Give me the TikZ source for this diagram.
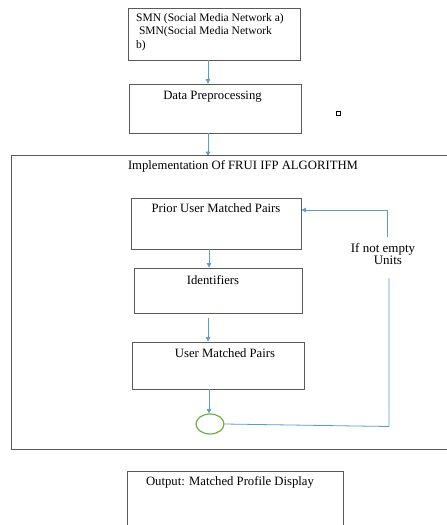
\documentclass[tikz,border=0pt]{standalone}
\usepackage{fontspec}
\setmainfont{Liberation Serif}
\usetikzlibrary{arrows.meta,shapes.geometric}
\definecolor{arrblue}{HTML}{5B9BD5}
\definecolor{boxgray}{HTML}{5A5A5A}
\definecolor{ellgreen}{HTML}{70AD47}
\begin{document}
\begin{tikzpicture}[x=1pt,y=-1pt,
  box/.style={draw=boxgray,line width=0.9pt,rectangle,inner sep=0pt},
  txt/.style={inner sep=0pt,font=\fontsize{12.7}{13.3}\selectfont},
  conn/.style={draw=arrblue,line width=0.8pt},
  arr/.style={conn,-{Triangle[width=4.5pt,length=4.5pt]}}]
\useasboundingbox (0,0) rectangle (447,525);
\fill[white] (0,0) rectangle (447,525);
% outer frame (right edge beyond the picture)
\draw[boxgray,line width=1pt] (460,155) -- (11.5,155) -- (11.5,449) -- (460,449);
% boxes
\node[box,minimum width=172pt,minimum height=52pt] (smn) at (214,34) {};
\node[box,minimum width=172pt,minimum height=49pt] (prep) at (215,108.5) {};
\node[box,minimum width=170pt,minimum height=51pt] (prior) at (216,223.5) {};
\node[box,minimum width=168pt,minimum height=45pt] (ident) at (218,290.5) {};
\node[box,minimum width=172pt,minimum height=47pt] (ump) at (218,365.5) {};
\node[draw=ellgreen,line width=1.2pt,ellipse,minimum width=28pt,minimum height=20pt,inner sep=0pt] (ell) at (210,424) {};
\draw[boxgray,line width=0.9pt] (343,540) -- (343,471) -- (127,471) -- (127,540);
\node[draw=black,line width=0.45pt,minimum size=4.5pt,inner sep=0pt] (sq) at (338,113) {};
% texts
\node[txt,font=\fontsize{11.5}{13.3}\selectfont,anchor=north west,align=left] (smnt) at (136,13.5) {SMN (Social Media Network a)\\\ SMN(Social Media Network\\b)};
\node[txt] (prept) at (212.5,97) {Data Preprocessing};
\node[txt] (title) at (243,166.5) {Implementation Of FRUI IFP ALGORITHM};
\node[txt] (priort) at (216,208.5) {Prior User Matched Pairs};
\node[txt] (identt) at (213,280.5) {Identifiers};
\node[txt] (umpt) at (225,353) {User Matched Pairs};
\node[txt] (outt) at (230,482) {Output: Matched Profile Display};
\node[txt,align=center,font=\fontsize{13}{11.5}\selectfont] (lbl) at (383,254) {If not empty\\\ \ \ Units};
% connectors
\draw[arr] (smn.south -| 208,0) -- (prep.north -| 208,0);
\draw[conn] (prep.south -| 208,0) -- (208,150);
\draw[arr] (208,145) -- (208,156);
\draw[arr] (prior.south -| 209,0) -- (ident.north -| 209,0);
\draw[arr] (ident.south -| 208,0) ++(0,5) -- (ump.north -| 208,0);
\draw[arr] (ump.south -| 209,0) -- (ell.north -| 209,0);
\coordinate (c1) at (389,426.5);
\coordinate (c2) at (387,210);
\coordinate (pe) at (prior.east |- c2);
\draw[conn] (ell.east) -- (c1) -- (389,278);
\draw[arr] (387,237) -- (c2) -- (pe);
\end{tikzpicture}
\end{document}
